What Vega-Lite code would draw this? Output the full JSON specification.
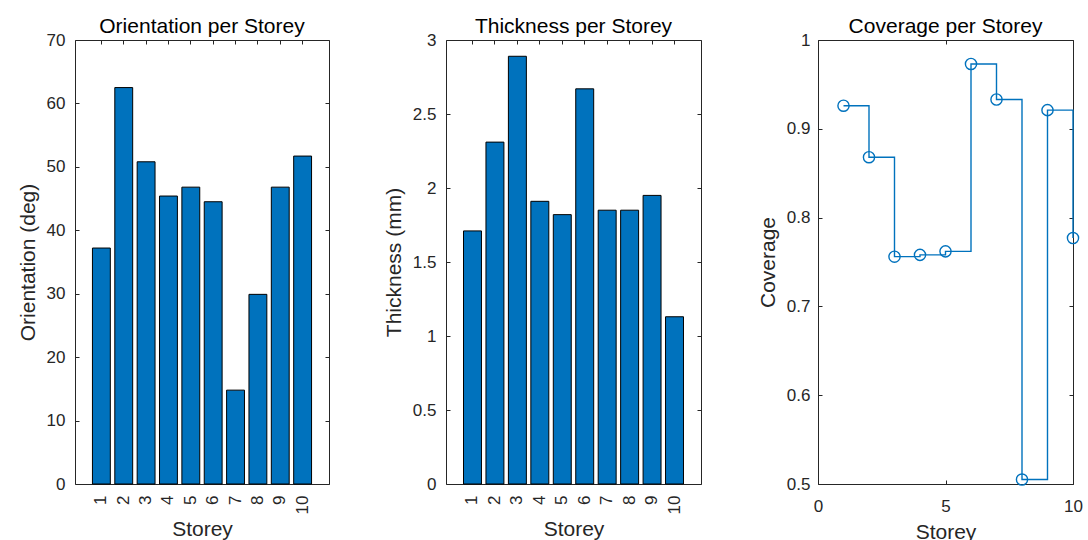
{
  "$schema": "https://vega.github.io/schema/vega-lite/v6.json",
  "autosize": {"type": "pad"},
  "padding": {"left": 16, "top": 15, "right": 0, "bottom": 0},
  "background": "#ffffff",
  "bounds": "flush",
  "spacing": 117,
  "config": {
    "font": "Liberation Sans",
    "view": {"stroke": "#262626", "strokeWidth": 1},
    "axis": {
      "domain": false,
      "grid": false,
      "labelFlush": false,
      "tickColor": "#262626",
      "tickSize": -4,
      "tickWidth": 1,
      "labelColor": "#262626",
      "labelFont": "Liberation Sans",
      "labelFontSize": 17,
      "labelPadding": 14,
      "titleFont": "Liberation Sans",
      "titleFontSize": 21,
      "titleFontWeight": "normal",
      "titleColor": "#262626",
      "titlePadding": 8
    },
    "title": {"font": "Liberation Sans", "fontSize": 21, "fontWeight": "normal", "color": "#000000", "offset": -6, "anchor": "middle", "frame": "group"}
  },
  "hconcat": [
    {
      "width": 254,
      "height": 444,
      "title": {"text": "Orientation per Storey"},
      "data": {"values": [
        {"storey": 1, "orientation": 37.2},
        {"storey": 2, "orientation": 62.5},
        {"storey": 3, "orientation": 50.8},
        {"storey": 4, "orientation": 45.4},
        {"storey": 5, "orientation": 46.8},
        {"storey": 6, "orientation": 44.5},
        {"storey": 7, "orientation": 14.8},
        {"storey": 8, "orientation": 29.9},
        {"storey": 9, "orientation": 46.8},
        {"storey": 10, "orientation": 51.7}
      ]},
      "layer": [
        {
          "mark": {"type": "bar", "fill": "#0072BD", "stroke": "#000000", "strokeWidth": 1},
          "encoding": {
            "x": {"field": "storey", "type": "ordinal", "scale": {"paddingInner": 0.2, "paddingOuter": 0.78}, "axis": {"title": "Storey", "labelAngle": 270, "labelPadding": 15, "titlePadding": 5}},
            "y": {"field": "orientation", "type": "quantitative", "scale": {"domain": [0, 70], "nice": false}, "axis": {"title": "Orientation (deg)", "values": [0, 10, 20, 30, 40, 50, 60, 70]}}
          }
        },
        {
          "mark": {"type": "bar", "opacity": 0},
          "encoding": {
            "x": {"field": "storey", "type": "ordinal", "axis": {"orient": "top", "labels": false, "title": null}},
            "y": {"field": "orientation", "type": "quantitative", "axis": {"orient": "right", "labels": false, "title": null, "values": [0, 10, 20, 30, 40, 50, 60, 70]}}
          }
        }
      ],
      "resolve": {"axis": {"x": "independent", "y": "independent"}}
    },
    {
      "width": 255,
      "height": 444,
      "title": {"text": "Thickness per Storey"},
      "data": {"values": [
        {"storey": 1, "thickness": 1.71},
        {"storey": 2, "thickness": 2.31},
        {"storey": 3, "thickness": 2.89},
        {"storey": 4, "thickness": 1.91},
        {"storey": 5, "thickness": 1.82},
        {"storey": 6, "thickness": 2.67},
        {"storey": 7, "thickness": 1.85},
        {"storey": 8, "thickness": 1.85},
        {"storey": 9, "thickness": 1.95},
        {"storey": 10, "thickness": 1.13}
      ]},
      "layer": [
        {
          "mark": {"type": "bar", "fill": "#0072BD", "stroke": "#000000", "strokeWidth": 1},
          "encoding": {
            "x": {"field": "storey", "type": "ordinal", "scale": {"paddingInner": 0.2, "paddingOuter": 0.78}, "axis": {"title": "Storey", "labelAngle": 270, "labelPadding": 15, "titlePadding": 5}},
            "y": {"field": "thickness", "type": "quantitative", "scale": {"domain": [0, 3], "nice": false}, "axis": {"title": "Thickness (mm)", "values": [0, 0.5, 1, 1.5, 2, 2.5, 3], "format": ".1~f"}}
          }
        },
        {
          "mark": {"type": "bar", "opacity": 0},
          "encoding": {
            "x": {"field": "storey", "type": "ordinal", "axis": {"orient": "top", "labels": false, "title": null}},
            "y": {"field": "thickness", "type": "quantitative", "axis": {"orient": "right", "labels": false, "title": null, "values": [0, 0.5, 1, 1.5, 2, 2.5, 3]}}
          }
        }
      ],
      "resolve": {"axis": {"x": "independent", "y": "independent"}}
    },
    {
      "width": 255,
      "height": 444,
      "title": {"text": "Coverage per Storey"},
      "data": {"values": [
        {"storey": 1, "coverage": 0.926},
        {"storey": 2, "coverage": 0.868},
        {"storey": 3, "coverage": 0.756},
        {"storey": 4, "coverage": 0.758},
        {"storey": 5, "coverage": 0.762},
        {"storey": 6, "coverage": 0.973},
        {"storey": 7, "coverage": 0.933},
        {"storey": 8, "coverage": 0.505},
        {"storey": 9, "coverage": 0.921},
        {"storey": 10, "coverage": 0.777}
      ]},
      "layer": [
        {
          "mark": {"type": "line", "interpolate": "step-after", "stroke": "#0072BD", "strokeWidth": 1.4},
          "encoding": {
            "x": {"field": "storey", "type": "quantitative", "scale": {"domain": [0, 10], "nice": false}, "axis": {"title": "Storey", "values": [0, 5, 10], "format": "d", "labelPadding": 18, "titlePadding": 7}},
            "y": {"field": "coverage", "type": "quantitative", "scale": {"domain": [0.5, 1], "nice": false, "zero": false}, "axis": {"title": "Coverage", "values": [0.5, 0.6, 0.7, 0.8, 0.9, 1], "format": ".1~f", "labelPadding": 12}}
          }
        },
        {
          "mark": {"type": "point", "shape": "circle", "filled": false, "stroke": "#0072BD", "strokeWidth": 1.4, "size": 125, "opacity": 1},
          "encoding": {
            "x": {"field": "storey", "type": "quantitative", "axis": {"orient": "top", "labels": false, "title": null, "values": [0, 5, 10]}},
            "y": {"field": "coverage", "type": "quantitative", "axis": {"orient": "right", "labels": false, "title": null, "values": [0.5, 0.6, 0.7, 0.8, 0.9, 1]}}
          }
        }
      ],
      "resolve": {"axis": {"x": "independent", "y": "independent"}}
    }
  ]
}
